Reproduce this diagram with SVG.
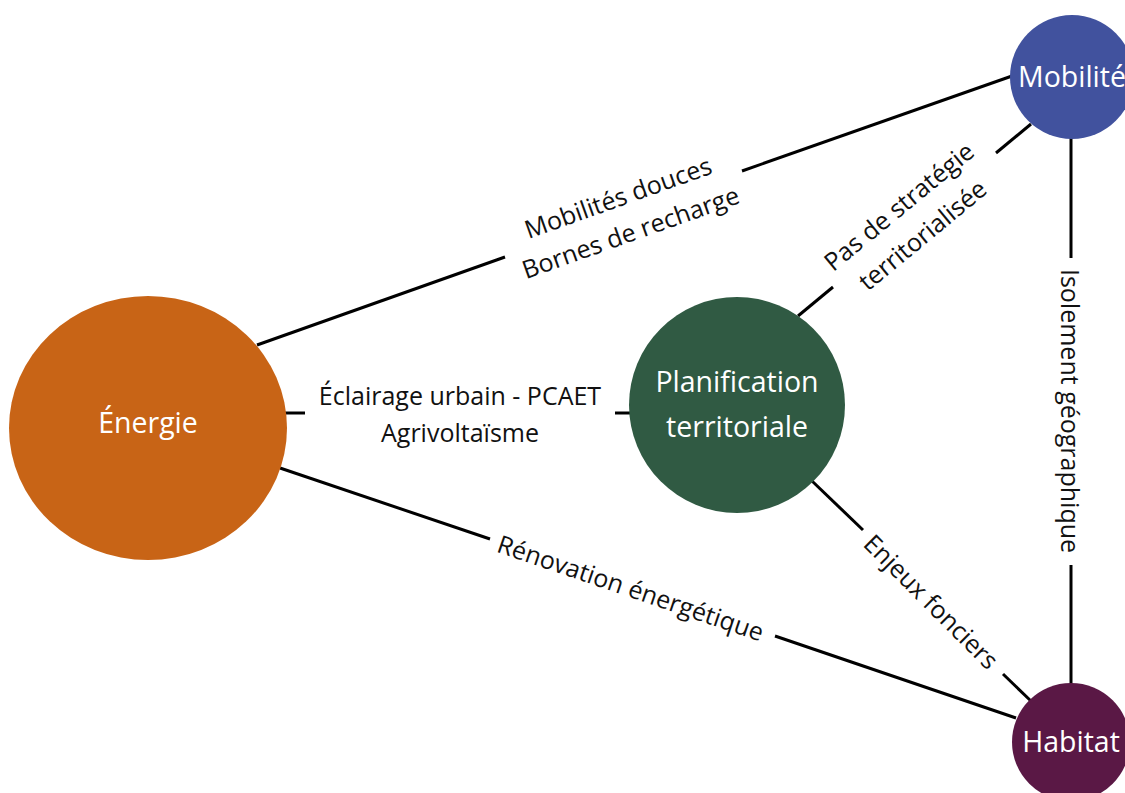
<svg xmlns="http://www.w3.org/2000/svg" width="1125" height="793" viewBox="0 0 1125 793">
<style>
.edge{stroke:#000;stroke-width:3;fill:none}
.lbl{font-family:"Open Sans","Noto Sans",sans-serif;font-size:25px;fill:#111;text-anchor:middle;dominant-baseline:central}
.ntx{font-family:"Open Sans","Noto Sans",sans-serif;font-size:28.5px;fill:#fff;text-anchor:middle}
</style>
<rect width="1125" height="793" fill="#fff"/>
<g id="connectors">
<line class="edge" x1="257" y1="345" x2="505" y2="257"/>
<line class="edge" x1="742" y1="171" x2="1012" y2="76"/>
<line class="edge" x1="285" y1="413" x2="305" y2="413"/>
<line class="edge" x1="615" y1="413" x2="632" y2="413"/>
<line class="edge" x1="280" y1="468" x2="490" y2="539"/>
<line class="edge" x1="775" y1="636" x2="1016" y2="718"/>
<line class="edge" x1="798" y1="316" x2="833" y2="287"/>
<line class="edge" x1="996" y1="153" x2="1031" y2="124"/>
<line class="edge" x1="812" y1="481" x2="863" y2="530"/>
<line class="edge" x1="1003" y1="674" x2="1032" y2="702"/>
<line class="edge" x1="1071" y1="138" x2="1071" y2="258"/>
<line class="edge" x1="1071" y1="565" x2="1071" y2="684"/>
<g id="label-mob-energie" transform="translate(624,214) rotate(-19.6)">
<text class="lbl" x="0" y="-18.5">Mobilités douces</text>
<text class="lbl" x="0" y="18.5">Bornes de recharge</text>
</g>
<g id="label-plan-energie">
<text class="lbl" x="460" y="395">Éclairage urbain - PCAET</text>
<text class="lbl" x="460" y="432">Agrivoltaïsme</text>
</g>
<g id="label-plan-mob" transform="translate(910,220) rotate(-39.5)">
<text class="lbl" x="0" y="-18.5">Pas de stratégie</text>
<text class="lbl" x="0" y="18.5">territorialisée</text>
</g>
<g id="label-hab-energie" transform="translate(631,587) rotate(18.8)">
<text class="lbl" x="0" y="0">Rénovation énergétique</text>
</g>
<g id="label-plan-hab" transform="translate(932,601) rotate(45)">
<text class="lbl" x="0" y="0">Enjeux fonciers</text>
</g>
<g id="label-mob-hab" transform="translate(1071,411) rotate(90)">
<text class="lbl" x="0" y="0">Isolement géographique</text>
</g>
</g>
<g id="energie">
<ellipse cx="148" cy="428" rx="139" ry="132" fill="#C86416"/>
<text class="ntx" x="148" y="433">Énergie</text>
</g>
<g id="planification">
<circle cx="737" cy="405" r="108" fill="#305A43"/>
<text class="ntx" x="737" y="392">Planification</text>
<text class="ntx" x="737" y="437">territoriale</text>
</g>
<g id="mobilite">
<circle cx="1072" cy="77" r="62" fill="#41529E"/>
<text class="ntx" x="1072" y="87">Mobilité</text>
</g>
<g id="habitat">
<circle cx="1071" cy="742" r="59" fill="#5A1845"/>
<text class="ntx" x="1071" y="752">Habitat</text>
</g>
</svg>
